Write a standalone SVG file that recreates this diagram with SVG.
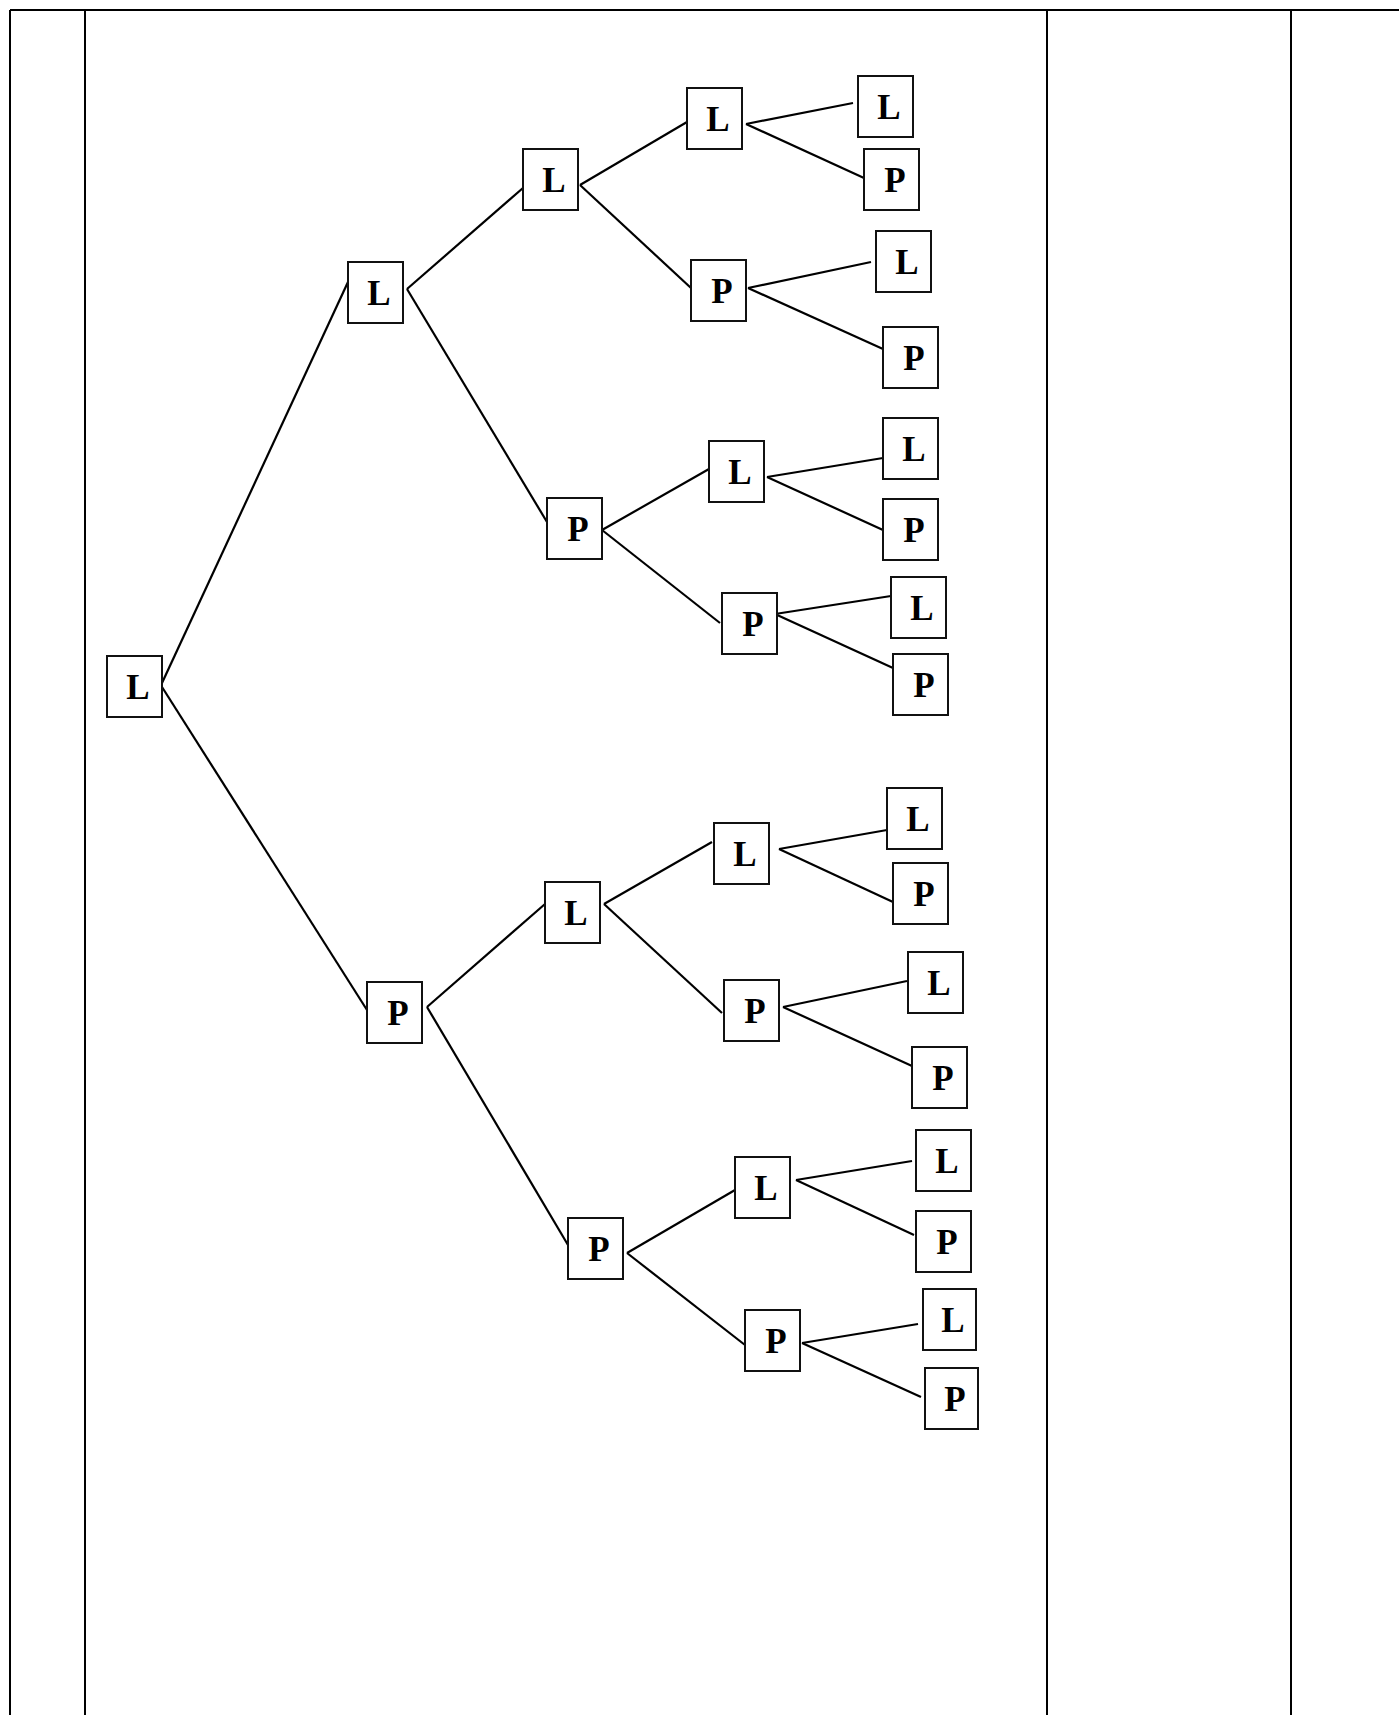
<svg xmlns="http://www.w3.org/2000/svg" width="1399" height="1715" viewBox="0 0 1399 1715">
<style>
.frame{stroke:#000;stroke-width:2;fill:none}
.box{fill:#fff;stroke:#111;stroke-width:2}
.lbl{font-family:"Liberation Serif","Times New Roman",serif;font-weight:bold;font-size:35px;fill:#000;text-anchor:middle}
.edge{stroke:#000;stroke-width:2.2;fill:none}
</style>
<rect width="1399" height="1715" fill="#fff"/>
<g id="table">
<line class="frame" x1="10" y1="10" x2="1399" y2="10"/>
<line class="frame" x1="10" y1="10" x2="10" y2="1715"/>
<line class="frame" x1="85" y1="10" x2="85" y2="1715"/>
<line class="frame" x1="1047" y1="10" x2="1047" y2="1715"/>
<line class="frame" x1="1291" y1="10" x2="1291" y2="1715"/>
</g>
<g id="connectors">
<line class="edge" x1="162" y1="683" x2="348" y2="282"/>
<line class="edge" x1="162" y1="687" x2="367" y2="1010"/>
<line class="edge" x1="407" y1="289" x2="523" y2="188"/>
<line class="edge" x1="407" y1="289" x2="547" y2="522"/>
<line class="edge" x1="580" y1="185" x2="687" y2="122"/>
<line class="edge" x1="580" y1="185" x2="691" y2="288"/>
<line class="edge" x1="746" y1="124" x2="853" y2="103"/>
<line class="edge" x1="746" y1="124" x2="864" y2="178"/>
<line class="edge" x1="748" y1="288" x2="871" y2="262"/>
<line class="edge" x1="748" y1="288" x2="883" y2="349"/>
<line class="edge" x1="602" y1="530" x2="709" y2="469"/>
<line class="edge" x1="602" y1="530" x2="720" y2="623"/>
<line class="edge" x1="767" y1="477" x2="883" y2="458"/>
<line class="edge" x1="767" y1="477" x2="883" y2="530"/>
<line class="edge" x1="775" y1="614" x2="891" y2="596"/>
<line class="edge" x1="775" y1="614" x2="893" y2="668"/>
<line class="edge" x1="427" y1="1007" x2="545" y2="904"/>
<line class="edge" x1="427" y1="1007" x2="568" y2="1245"/>
<line class="edge" x1="604" y1="904" x2="712" y2="842"/>
<line class="edge" x1="604" y1="904" x2="722" y2="1013"/>
<line class="edge" x1="779" y1="849" x2="887" y2="830"/>
<line class="edge" x1="779" y1="849" x2="893" y2="902"/>
<line class="edge" x1="783" y1="1007" x2="907" y2="981"/>
<line class="edge" x1="783" y1="1007" x2="912" y2="1066"/>
<line class="edge" x1="627" y1="1253" x2="735" y2="1190"/>
<line class="edge" x1="627" y1="1253" x2="745" y2="1345"/>
<line class="edge" x1="796" y1="1180" x2="912" y2="1161"/>
<line class="edge" x1="796" y1="1180" x2="914" y2="1235"/>
<line class="edge" x1="802" y1="1343" x2="918" y2="1324"/>
<line class="edge" x1="802" y1="1343" x2="921" y2="1397"/>
</g>
<g id="n-root"><rect class="box" x="107" y="656" width="55" height="61"/><text class="lbl" x="138" y="699">L</text></g>
<g id="n-L1"><rect class="box" x="348" y="262" width="55" height="61"/><text class="lbl" x="379" y="305">L</text></g>
<g id="n-P1"><rect class="box" x="367" y="982" width="55" height="61"/><text class="lbl" x="398" y="1025">P</text></g>
<g id="n-L2a"><rect class="box" x="523" y="149" width="55" height="61"/><text class="lbl" x="554" y="192">L</text></g>
<g id="n-P2a"><rect class="box" x="547" y="498" width="55" height="61"/><text class="lbl" x="578" y="541">P</text></g>
<g id="n-L3a"><rect class="box" x="687" y="88" width="55" height="61"/><text class="lbl" x="718" y="131">L</text></g>
<g id="n-P3a"><rect class="box" x="691" y="260" width="55" height="61"/><text class="lbl" x="722" y="303">P</text></g>
<g id="n-L3b"><rect class="box" x="709" y="441" width="55" height="61"/><text class="lbl" x="740" y="484">L</text></g>
<g id="n-P3b"><rect class="box" x="722" y="593" width="55" height="61"/><text class="lbl" x="753" y="636">P</text></g>
<g id="n-a1"><rect class="box" x="858" y="76" width="55" height="61"/><text class="lbl" x="889" y="119">L</text></g>
<g id="n-a2"><rect class="box" x="864" y="149" width="55" height="61"/><text class="lbl" x="895" y="192">P</text></g>
<g id="n-a3"><rect class="box" x="876" y="231" width="55" height="61"/><text class="lbl" x="907" y="274">L</text></g>
<g id="n-a4"><rect class="box" x="883" y="327" width="55" height="61"/><text class="lbl" x="914" y="370">P</text></g>
<g id="n-a5"><rect class="box" x="883" y="418" width="55" height="61"/><text class="lbl" x="914" y="461">L</text></g>
<g id="n-a6"><rect class="box" x="883" y="499" width="55" height="61"/><text class="lbl" x="914" y="542">P</text></g>
<g id="n-a7"><rect class="box" x="891" y="577" width="55" height="61"/><text class="lbl" x="922" y="620">L</text></g>
<g id="n-a8"><rect class="box" x="893" y="654" width="55" height="61"/><text class="lbl" x="924" y="697">P</text></g>
<g id="n-L2b"><rect class="box" x="545" y="882" width="55" height="61"/><text class="lbl" x="576" y="925">L</text></g>
<g id="n-P2b"><rect class="box" x="568" y="1218" width="55" height="61"/><text class="lbl" x="599" y="1261">P</text></g>
<g id="n-L3c"><rect class="box" x="714" y="823" width="55" height="61"/><text class="lbl" x="745" y="866">L</text></g>
<g id="n-P3c"><rect class="box" x="724" y="980" width="55" height="61"/><text class="lbl" x="755" y="1023">P</text></g>
<g id="n-L3d"><rect class="box" x="735" y="1157" width="55" height="61"/><text class="lbl" x="766" y="1200">L</text></g>
<g id="n-P3d"><rect class="box" x="745" y="1310" width="55" height="61"/><text class="lbl" x="776" y="1353">P</text></g>
<g id="n-b1"><rect class="box" x="887" y="788" width="55" height="61"/><text class="lbl" x="918" y="831">L</text></g>
<g id="n-b2"><rect class="box" x="893" y="863" width="55" height="61"/><text class="lbl" x="924" y="906">P</text></g>
<g id="n-b3"><rect class="box" x="908" y="952" width="55" height="61"/><text class="lbl" x="939" y="995">L</text></g>
<g id="n-b4"><rect class="box" x="912" y="1047" width="55" height="61"/><text class="lbl" x="943" y="1090">P</text></g>
<g id="n-b5"><rect class="box" x="916" y="1130" width="55" height="61"/><text class="lbl" x="947" y="1173">L</text></g>
<g id="n-b6"><rect class="box" x="916" y="1211" width="55" height="61"/><text class="lbl" x="947" y="1254">P</text></g>
<g id="n-b7"><rect class="box" x="923" y="1289" width="53" height="61"/><text class="lbl" x="953" y="1332">L</text></g>
<g id="n-b8"><rect class="box" x="925" y="1368" width="53" height="61"/><text class="lbl" x="955" y="1411">P</text></g>
</svg>
